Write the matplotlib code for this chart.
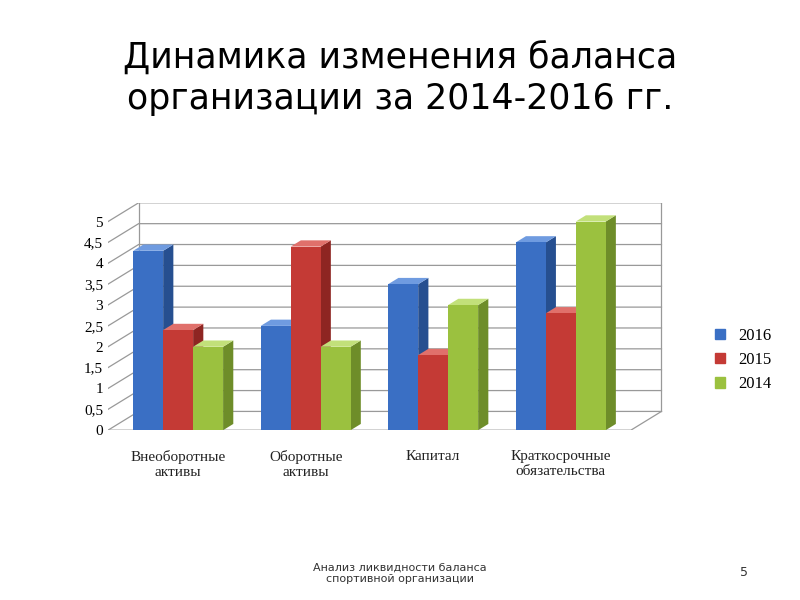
import numpy as np
import matplotlib.pyplot as plt
from matplotlib.patches import Polygon, Patch

categories = ["Внеоборотные\nактивы", "Оборотные\nактивы", "Капитал", "Краткосрочные\nобязательства"]
series = ["2016", "2015", "2014"]
values = {
    "2016": [4.3, 2.5, 3.5, 4.5],
    "2015": [2.4, 4.4, 1.8, 2.8],
    "2014": [2.0, 2.0, 3.0, 5.0],
}
yticks = [0, 0.5, 1, 1.5, 2, 2.5, 3, 3.5, 4, 4.5, 5]
ytick_labels = ["0", "0,5", "1", "1,5", "2", "2,5", "3", "3,5", "4", "4,5", "5"]
colors = {"2016": ("#3a6fc4", "#264f90", "#6f9be0"),
          "2015": ("#c43a35", "#8e2522", "#e0706b"),
          "2014": ("#9bc13f", "#6e8d29", "#c2e07a")}

fig = plt.figure(figsize=(8, 6), dpi=100)
fig.text(0.5, 0.87, "Динамика изменения баланса\nорганизации за 2014-2016 гг.",
         ha="center", va="center", fontsize=25, family="DejaVu Sans", linespacing=1.25)
fig.text(0.5, 0.045, "Анализ ликвидности баланса\nспортивной организации",
         ha="center", va="center", fontsize=8, color="#333333")
fig.text(0.93, 0.045, "5", ha="center", va="center", fontsize=9, color="#333333")

ax = fig.add_axes([0.135, 0.283, 0.695, 0.379])
dx, dy = 0.08, 0.15
w = 0.235
x = np.arange(len(categories))

# back wall gridlines
for t in yticks:
    ax.plot([-0.55, -0.55 + dx * 3, 3.55 + dx * 3], [t, t + dy * 3, t + dy * 3],
            color="#999999", lw=0.9, zorder=0)
ax.plot([-0.55 + dx * 3] * 2, [dy * 3, 5 + dy * 3], color="#999999", lw=0.9, zorder=0)
ax.plot([3.55 + dx * 3] * 2, [dy * 3, 5 + dy * 3], color="#999999", lw=0.9, zorder=0)
ax.plot([-0.55, 3.55, 3.55 + dx * 3], [0, 0, dy * 3], color="#999999", lw=0.9, zorder=0)

for j, s in enumerate(series):
    face, side, top = colors[s]
    for i, v in enumerate(values[s]):
        x0 = x[i] + (j - 1) * w - w / 2
        x1 = x0 + w
        ax.add_patch(Polygon([(x1, 0), (x1 + dx, dy), (x1 + dx, v + dy), (x1, v)],
                             closed=True, fc=side, ec="none", zorder=2 + j))
        ax.add_patch(Polygon([(x0, v), (x0 + dx, v + dy), (x1 + dx, v + dy), (x1, v)],
                             closed=True, fc=top, ec="none", zorder=2 + j))
        ax.bar(x0, v, width=w, align="edge", color=face, zorder=2 + j)

ax.set_xlim(-0.55, 3.55 + dx * 3 + 0.02)
ax.set_ylim(0, 5 + dy * 3)
ax.set_yticks(yticks)
ax.set_yticklabels(ytick_labels, family="Liberation Serif", fontsize=11)
ax.set_xticks(x)
ax.set_xticklabels(categories, family="Liberation Serif", fontsize=11, color="#222222")
ax.tick_params(axis="x", length=0, pad=14)
ax.tick_params(axis="y", length=0)
for sp in ax.spines.values():
    sp.set_visible(False)

handles = [Patch(color=colors[s][0], label=s) for s in series]
fig.legend(handles=handles, loc="center left", bbox_to_anchor=(0.875, 0.4),
           frameon=False, prop={"family": "Liberation Serif", "size": 12},
           handlelength=0.6, handleheight=0.6)

fig.savefig("out.png", dpi=100)
